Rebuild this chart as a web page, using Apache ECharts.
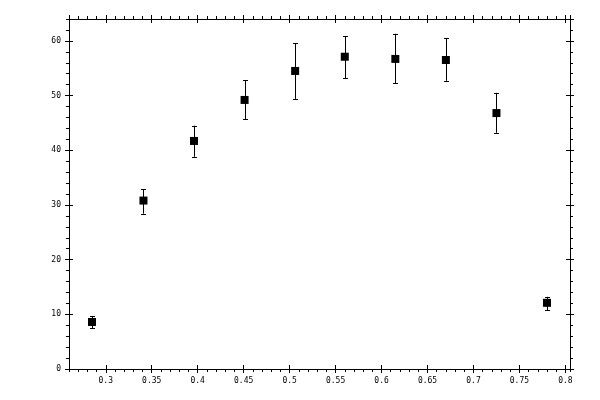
<!DOCTYPE html>
<html>
<head>
<meta charset="utf-8">
<script src="https://cdn.jsdelivr.net/npm/echarts@6/dist/echarts.min.js"></script>
<style>
html,body{margin:0;padding:0;background:#fff;}
#chart{width:600px;height:400px;}
</style>
</head>
<body>
<div id="chart"></div>
<script>
// 数据
var xValues = [0.285, 0.341, 0.396, 0.451, 0.506, 0.560, 0.615, 0.670, 0.725, 0.780];
var yValues = [8.6, 30.8, 41.7, 49.2, 54.5, 57.1, 56.7, 56.5, 46.8, 12.1];
var yLow    = [7.5, 28.4, 38.8, 45.7, 49.4, 53.2, 52.3, 52.7, 43.2, 10.8];
var yHigh   = [9.7, 32.9, 44.5, 52.8, 59.6, 60.9, 61.3, 60.5, 50.5, 13.2];

var xMin = 0.26, xMax = 0.805;
var yMin = 0, yMax = 64;

var points = [];
var bars = [];
for (var i = 0; i < xValues.length; i++) {
    points.push([xValues[i], yValues[i]]);
    bars.push([xValues[i], yLow[i], yHigh[i]]);
}

var font = {fontFamily: 'DejaVu Sans Mono', fontSize: 8, color: '#000'};

// x轴: 小刻度 / 大刻度(外) / 大刻度(内)
function xAxisDef(pos, kind) {
    var a = {
        type: 'value', position: pos, min: xMin, max: xMax,
        axisLine: {show: kind === 'minor', onZero: false, lineStyle: {color: '#000', width: 1}},
        splitLine: {show: false},
        axisLabel: {show: false},
        axisTick: {show: true, inside: kind === 'in', length: kind === 'minor' ? 3 : 4,
                   lineStyle: {color: '#000', width: 1}}
    };
    if (kind === 'minor') {
        a.interval = 0.01;
    } else {
        a.minInterval = 0.05;
        a.maxInterval = 0.05;
        a.splitNumber = 11;
    }
    if (pos === 'bottom' && kind === 'out') {
        a.axisLabel = Object.assign({show: true, margin: 8, showMinLabel: false, showMaxLabel: false,
            formatter: function (v) { return String(+v.toFixed(2)); }}, font);
    }
    return a;
}
function yAxisDef(pos, kind) {
    var a = {
        type: 'value', position: pos, min: yMin, max: yMax,
        interval: kind === 'minor' ? 2 : 10,
        axisLine: {show: kind === 'minor', onZero: false, lineStyle: {color: '#000', width: 1}},
        splitLine: {show: false},
        axisLabel: {show: false},
        axisTick: {show: true, inside: kind === 'in', length: kind === 'minor' ? 3 : 4,
                   lineStyle: {color: '#000', width: 1}}
    };
    if (pos === 'left' && kind === 'out') {
        a.axisLabel = Object.assign({show: true, margin: 8, showMaxLabel: false}, font);
    }
    return a;
}

var chart = echarts.init(document.getElementById('chart'));
var option = {
    backgroundColor: '#fff',
    animation: false,
    grid: {left: 69, right: 30, top: 19, bottom: 31},
    xAxis: [
        xAxisDef('bottom', 'minor'), xAxisDef('bottom', 'out'), xAxisDef('bottom', 'in'),
        xAxisDef('top', 'minor'), xAxisDef('top', 'out'), xAxisDef('top', 'in')
    ],
    yAxis: [
        yAxisDef('left', 'minor'), yAxisDef('left', 'out'), yAxisDef('left', 'in'),
        yAxisDef('right', 'minor'), yAxisDef('right', 'out'), yAxisDef('right', 'in')
    ],
    series: [
        {
            // 误差棒
            type: 'custom',
            xAxisIndex: 0, yAxisIndex: 0,
            data: bars,
            renderItem: function (params, api) {
                var lo = api.coord([api.value(0), api.value(1)]);
                var hi = api.coord([api.value(0), api.value(2)]);
                var x = Math.round(lo[0]) + 0.5;
                var w = 2.5;
                var st = {stroke: '#000', lineWidth: 1};
                return {
                    type: 'group',
                    children: [
                        {type: 'line', shape: {x1: x, y1: lo[1], x2: x, y2: hi[1]}, style: st},
                        {type: 'line', shape: {x1: x - w, y1: Math.round(lo[1]) + 0.5, x2: x + w, y2: Math.round(lo[1]) + 0.5}, style: st},
                        {type: 'line', shape: {x1: x - w, y1: Math.round(hi[1]) + 0.5, x2: x + w, y2: Math.round(hi[1]) + 0.5}, style: st}
                    ]
                };
            },
            z: 2
        },
        {
            type: 'scatter',
            xAxisIndex: 0, yAxisIndex: 0,
            symbol: 'rect',
            symbolSize: 8,
            itemStyle: {color: '#000', opacity: 1},
            data: points,
            z: 3
        }
    ]
};
chart.setOption(option);
</script>
</body>
</html>
